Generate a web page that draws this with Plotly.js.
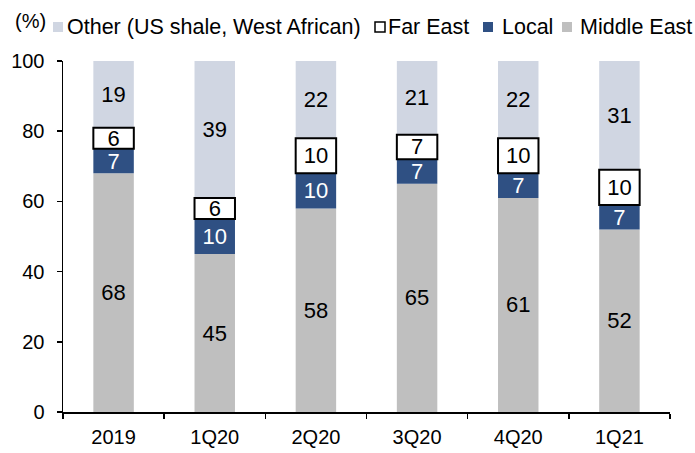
<!DOCTYPE html>
<html>
<head>
<meta charset="utf-8">
<script src="https://cdn.plot.ly/plotly-3.0.1.min.js"></script>
<style>html,body{margin:0;padding:0;background:#fff;}#chart{width:695px;height:453px;}</style>
</head>
<body>
<div id="chart"></div>
<script>
const categories = ['2019', '1Q20', '2Q20', '3Q20', '4Q20', '1Q21'];
const middleEast = [68, 45, 58, 65, 61, 52];
const local = [7, 10, 10, 7, 7, 7];
const farEast = [6, 6, 10, 7, 10, 10];
const other = [19, 39, 22, 21, 22, 31];
const yTicks = [0, 20, 40, 60, 80, 100];
const seriesNames = ['Other (US shale, West African)', 'Far East', 'Local', 'Middle East'];

const FONT = 'Liberation Sans, Arial, sans-serif';
const W = 695, H = 453;
const M = {l: 63, r: 25, t: 61, b: 41};
const PW = W - M.l - M.r, PH = H - M.t - M.b;
const px2x = p => (p - M.l) / PW;
const py2y = p => (H - M.b - p) / PH;

const colors = {other: '#d0d6e2', far: '#ffffff', local: '#2f5083', me: '#bfbfbf'};

// bases from the data (stack computed, drawn in overlay so Far East border sits on top)
const baseLocal = middleEast.slice();
const baseFar = middleEast.map((v, i) => v + local[i]);
const baseOther = baseFar.map((v, i) => v + farEast[i]);

function bar(name, y, base, color, textColor, line) {
  return {
    type: 'bar', name: name, x: categories, y: y, base: base,
    width: 0.4,
    marker: {color: color, line: line || {width: 0}},
    text: y.map(String), textposition: 'inside', insidetextanchor: 'middle',
    textangle: 0, constraintext: 'none',
    textfont: {family: FONT, size: 22, color: textColor},
    hoverinfo: 'skip', showlegend: false
  };
}

const traces = [
  bar(seriesNames[3], middleEast, categories.map(() => 0), colors.me, '#000'),
  bar(seriesNames[2], local, baseLocal, colors.local, '#fff'),
  bar(seriesNames[0], other, baseOther, colors.other, '#000'),
  bar(seriesNames[1], farEast, baseFar, colors.far, '#000', {color: '#000', width: 2})
];

// custom legend (pixel layout)
const legendY = 27;
const legendItems = [
  {name: seriesNames[0], sq: 53, tx: 65, fill: colors.other, border: null},
  {name: seriesNames[1], sq: 375, tx: 386, fill: colors.far, border: '#000'},
  {name: seriesNames[2], sq: 483, tx: 500, fill: colors.local, border: null},
  {name: seriesNames[3], sq: 562, tx: 578, fill: colors.me, border: null}
];
const shapes = legendItems.map(it => ({
  type: 'rect', xref: 'paper', yref: 'paper',
  x0: px2x(it.sq), x1: px2x(it.sq + 10),
  y0: py2y(legendY + 5), y1: py2y(legendY - 5),
  fillcolor: it.fill,
  line: it.border ? {color: it.border, width: 1.5} : {width: 0}
}));
const annotations = legendItems.map(it => ({
  text: it.name, xref: 'paper', yref: 'paper',
  x: px2x(it.tx), y: py2y(legendY), xanchor: 'left', yanchor: 'middle',
  showarrow: false, font: {family: FONT, size: 21.5, color: '#000'}
}));
annotations.push({
  text: '(%)', xref: 'paper', yref: 'paper', x: px2x(30), y: py2y(21),
  xanchor: 'center', yanchor: 'middle', showarrow: false,
  font: {family: FONT, size: 20, color: '#000'}
});

const layout = {
  width: W, height: H,
  margin: M,
  barmode: 'overlay',
  paper_bgcolor: '#fff', plot_bgcolor: '#fff',
  font: {family: FONT, size: 20, color: '#000'},
  showlegend: false,
  xaxis: {
    type: 'category', range: [-0.5, 5.5], showline: true, linecolor: '#000', linewidth: 1.5,
    ticks: 'outside', tickson: 'boundaries', ticklen: 5, tickcolor: '#000', tickwidth: 1.5,
    ticklabelstandoff: 6,
    showgrid: false, zeroline: false, fixedrange: true,
    tickfont: {family: FONT, size: 20, color: '#000'}
  },
  yaxis: {
    range: [0, 100], tickvals: yTicks, ticktext: yTicks.map(String),
    showline: true, linecolor: '#000', linewidth: 1.5,
    ticks: 'outside', ticklen: 5, tickcolor: '#000', tickwidth: 1.5,
    ticklabelstandoff: 8,
    showgrid: false, zeroline: false, fixedrange: true,
    tickfont: {family: FONT, size: 20, color: '#000'}
  },
  shapes: shapes,
  annotations: annotations
};

Plotly.newPlot('chart', traces, layout, {staticPlot: true, displayModeBar: false});
</script>
</body>
</html>
